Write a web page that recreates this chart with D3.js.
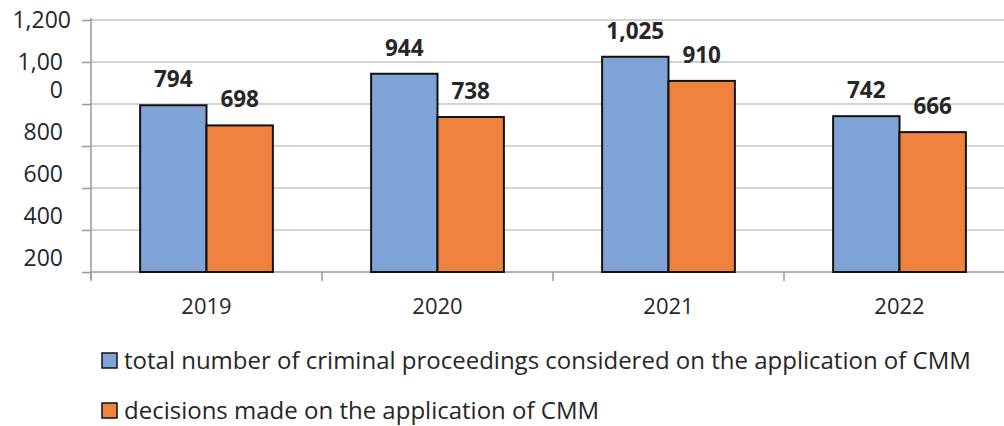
<!DOCTYPE html>
<html>
<head>
<meta charset="utf-8">
<script src="https://cdn.jsdelivr.net/npm/d3@7"></script>
<style>
  html, body { margin: 0; padding: 0; background: #fff; }
  svg { display: block; }
  text { font-family: "Open Sans", "Liberation Sans", sans-serif; fill: #262626; }
</style>
</head>
<body>
<svg id="chart" width="1004" height="426"></svg>
<script>
// Data
const years = ["2019", "2020", "2021", "2022"];
const seriesNames = [
  "total number of criminal proceedings considered on the application of CMM",
  "decisions made on the application of CMM"
];
const totalProceedings = [794, 944, 1025, 742];
const decisionsMade = [698, 738, 910, 666];
const yTicks = [200, 400, 600, 800, 1000, 1200];
const seriesColors = ["#7FA3D7", "#F0823F"];

const svg = d3.select("#chart");
svg.append("rect").attr("width", 1004).attr("height", 426).attr("fill", "#fff");

const plotLeft = 91, plotRight = 1015, plotTop = 20, plotBottom = 272;

const y = d3.scaleLinear().domain([0, 1200]).range([plotBottom, plotTop]);
const x0 = d3.scaleBand().domain(years).range([plotLeft, plotRight]).padding(0);
const x1 = d3.scaleBand().domain([0, 1]).range([0, x0.bandwidth()])
  .paddingInner(0).paddingOuter(0.74);

const fmt = d3.format(",");

// Horizontal gridlines
svg.append("g")
  .selectAll("line")
  .data(yTicks)
  .join("line")
  .attr("x1", plotLeft).attr("x2", 1004)
  .attr("y1", d => y(d)).attr("y2", d => y(d))
  .attr("stroke", "#C3C3C3").attr("stroke-width", 1.5);

// Y axis
const yAxis = svg.append("g")
  .attr("transform", `translate(${plotLeft},0)`)
  .call(d3.axisLeft(y).tickValues([0].concat(yTicks)).tickFormat(d => d === 0 ? "" : fmt(d)).tickSize(9).tickPadding(19));
yAxis.select(".domain").attr("stroke", "#999").attr("stroke-width", 1.5)
  .attr("d", `M0,${y(1200) - 2}V${plotBottom + 8}`);
yAxis.selectAll(".tick line").attr("stroke", "#999").attr("stroke-width", 1.5);
yAxis.selectAll(".tick text")
  .attr("font-family", null)
  .attr("font-size", 23)
  .attr("fill", "#262626")
  .each(function(d) {
    const t = d3.select(this);
    if (d === 1200) {
      t.attr("dx", 8);
    } else if (d === 1000) {
      // label wraps onto two lines in the narrow label column
      t.text(null);
      t.append("tspan").attr("x", -28).attr("dy", "0.32em").text("1,00");
      t.append("tspan").attr("x", -28).attr("dy", 28).text("0");
      t.attr("dy", null);
    } else {
      t.attr("transform", "translate(0,28)");
    }
  });

// X axis
const xAxis = svg.append("g")
  .attr("transform", `translate(0,${plotBottom})`)
  .call(d3.axisBottom(x0).tickSize(0).tickPadding(0));
xAxis.select(".domain").attr("stroke", "#999").attr("stroke-width", 1.5)
  .attr("d", `M${plotLeft},0H1004`);
xAxis.selectAll(".tick text")
  .attr("font-family", null)
  .attr("font-size", 22)
  .attr("fill", "#262626")
  .attr("dy", null)
  .attr("y", 42);
// category separators below the baseline
svg.append("g")
  .selectAll("line")
  .data(years)
  .join("line")
  .attr("x1", d => x0(d)).attr("x2", d => x0(d))
  .attr("y1", plotBottom).attr("y2", plotBottom + 9)
  .attr("stroke", "#999").attr("stroke-width", 1.5);

// Bars
const rows = years.map((yr, i) => ({ year: yr, values: [totalProceedings[i], decisionsMade[i]] }));
const groups = svg.append("g")
  .selectAll("g")
  .data(rows)
  .join("g")
  .attr("transform", d => `translate(${x0(d.year)},0)`);

groups.selectAll("rect")
  .data(d => d.values.map((v, k) => ({ v, k })))
  .join("rect")
  .attr("x", d => x1(d.k))
  .attr("width", x1.bandwidth())
  .attr("y", d => y(d.v))
  .attr("height", d => y(0) - y(d.v))
  .attr("fill", d => seriesColors[d.k])
  .attr("stroke", "#111")
  .attr("stroke-width", 2);

groups.selectAll("text.val")
  .data(d => d.values.map((v, k) => ({ v, k })))
  .join("text")
  .attr("class", "val")
  .attr("x", d => x1(d.k) + x1.bandwidth() / 2)
  .attr("y", d => y(d.v) - 18)
  .attr("text-anchor", "middle")
  .attr("font-size", 22.5)
  .attr("font-weight", "bold")
  .text(d => fmt(d.v));

// Legend
const legend = svg.append("g")
  .selectAll("g")
  .data(seriesNames)
  .join("g")
  .attr("transform", (d, i) => `translate(102,${353 + i * 50})`);
legend.append("rect")
  .attr("width", 15).attr("height", 15)
  .attr("fill", (d, i) => seriesColors[i])
  .attr("stroke", "#111").attr("stroke-width", 1.5);
legend.append("text")
  .attr("x", 22).attr("y", 16)
  .attr("font-size", 24)
  .text(d => d);
</script>
</body>
</html>
